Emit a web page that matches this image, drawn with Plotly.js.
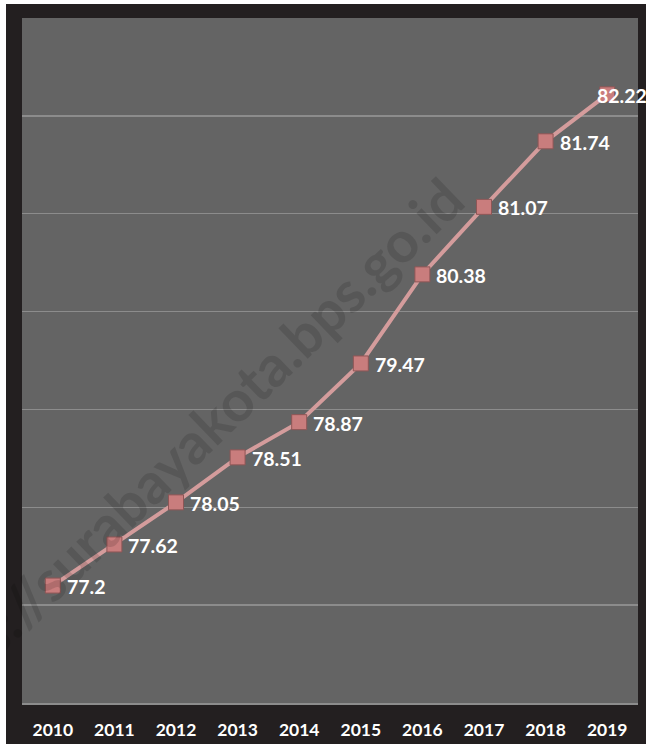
<!DOCTYPE html>
<html>
<head>
<meta charset="utf-8">
<script src="https://cdn.plot.ly/plotly-3.0.1.min.js"></script>
<style>
html,body{margin:0;padding:0;background:#ffffff;}
#chart{position:absolute;left:6px;top:4px;width:640px;height:740px;}
</style>
</head>
<body>
<div id="chart"></div>
<script>
const years = ['2010','2011','2012','2013','2014','2015','2016','2017','2018','2019'];
const values = [77.2, 77.62, 78.05, 78.51, 78.87, 79.47, 80.38, 81.07, 81.74, 82.22];
const watermark = 'https://surabayakota.bps.go.id';

const trace = {
  x: years,
  y: values,
  type: 'scatter',
  mode: 'lines+markers',
  line: {color: '#d49c9c', width: 4},
  marker: {symbol: 'square', size: 15, color: '#c97d7d', line: {color: '#8e5656', width: 1}},
  hoverinfo: 'skip',
  cliponaxis: false
};

const annotations = values.map((v, i) => ({
  x: i, y: v, xref: 'x', yref: 'y',
  text: '<b>' + String(v) + '</b>', showarrow: false,
  xanchor: 'left', yanchor: 'middle',
  xshift: i === values.length - 1 ? -12 : 12,
  yshift: -1,
  font: {family: 'Lato, "Open Sans", sans-serif', size: 19.5, color: '#ffffff'}
}));

annotations.unshift({
  xref: 'paper', yref: 'paper', x: 0.256, y: 0.366,
  text: '<b>' + watermark + '</b>', showarrow: false, textangle: -44,
  xanchor: 'center', yanchor: 'middle',
  font: {family: 'Lato, "Open Sans", sans-serif', size: 57, color: 'rgba(0,0,0,0.13)'}
});

const layout = {
  width: 640, height: 740,
  margin: {l: 16, r: 8, t: 14, b: 41},
  paper_bgcolor: '#231f20',
  plot_bgcolor: '#646464',
  showlegend: false,
  xaxis: {
    type: 'category', range: [-0.5, 9.5], fixedrange: true,
    showgrid: false, zeroline: false,
    showline: true, linecolor: '#8c8c8c', linewidth: 1.5,
    ticks: 'outside', ticklen: 10, tickcolor: 'rgba(0,0,0,0)',
    tickfont: {family: 'Lato, "Open Sans", sans-serif', size: 17.5, color: '#ffffff', weight: 'bold'}
  },
  yaxis: {
    range: [76, 83], dtick: 1, tick0: 76, fixedrange: true,
    showgrid: true, gridcolor: '#8c8c8c', gridwidth: 1.5,
    zeroline: false, showticklabels: false, ticks: ''
  },
  annotations: annotations
};

Plotly.newPlot('chart', [trace], layout, {displayModeBar: false, staticPlot: true});
</script>
</body>
</html>
